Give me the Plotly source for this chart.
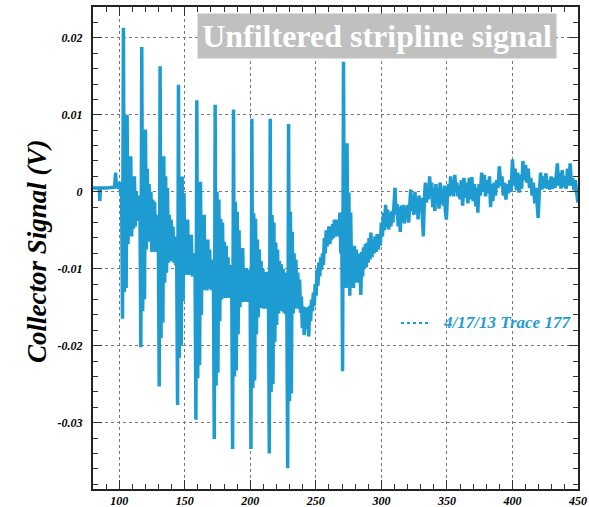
import plotly.graph_objects as go

# ---------------- data ----------------
pre_x = [80.0, 84.0, 84.8, 85.2, 85.7, 90.0, 95.0, 96.5, 97.2, 97.8, 99.5, 100.5, 101.2, 101.8]
pre_y = [0.0005, 0.0005, 0.0005, -0.0012, 0.0005, 0.0005, 0.0005, 0.0006, 0.0025, 0.0008,
         0.0005, 0.0013, -0.0005, 0.0013]

burst_x = [
    102.5, 103.2, 103.9, 104.6, 105.3, 106.0, 106.7, 107.4, 108.1, 108.8, 109.5, 110.2, 110.9, 111.6, 112.3, 113.0, 113.7, 114.4, 115.1, 115.8,
    116.5, 117.2, 117.9, 118.6, 119.3, 120.0, 120.7, 121.4, 122.1, 122.8, 123.5, 124.2, 124.9, 125.6, 126.3, 127.0, 127.7, 128.4, 129.1, 129.8,
    130.5, 131.2, 131.9, 132.6, 133.3, 134.0, 134.7, 135.4, 136.1, 136.8, 137.5, 138.2, 138.9, 139.6, 140.3, 141.0, 141.7, 142.4, 143.1, 143.8,
    144.5, 145.2, 145.9, 146.6, 147.3, 148.0, 148.7, 149.4, 150.1, 150.8, 151.5, 152.2, 152.9, 153.6, 154.3, 155.0, 155.7, 156.4, 157.1, 157.8,
    158.5, 159.2, 159.9, 160.6, 161.3, 162.0, 162.7, 163.4, 164.1, 164.8, 165.5, 166.2, 166.9, 167.6, 168.3, 169.0, 169.7, 170.4, 171.1, 171.8,
    172.5, 173.2, 173.9, 174.6, 175.3, 176.0, 176.7, 177.4, 178.1, 178.8, 179.5, 180.2, 180.9, 181.6, 182.3, 183.0, 183.7, 184.4, 185.1, 185.8,
    186.5, 187.2, 187.9, 188.6, 189.3, 190.0, 190.7, 191.4, 192.1, 192.8, 193.5, 194.2, 194.9, 195.6, 196.3, 197.0, 197.7, 198.4, 199.1, 199.8,
    200.5, 201.2, 201.9, 202.6, 203.3, 204.0, 204.7, 205.4, 206.1, 206.8, 207.5, 208.2, 208.9, 209.6, 210.3, 211.0, 211.7, 212.4, 213.1, 213.8,
    214.5, 215.2, 215.9, 216.6, 217.3, 218.0, 218.7, 219.4, 220.1, 220.8, 221.5, 222.2, 222.9, 223.6, 224.3, 225.0, 225.7, 226.4, 227.1, 227.8,
    228.5, 229.2, 229.9, 230.6, 231.3, 232.0, 232.7, 233.4, 234.1, 234.8, 235.5, 236.2, 236.9, 237.6, 238.3, 239.0, 239.7, 240.4, 241.1, 241.8,
]
burst_y = [
    -0.0165, 0.0213, -0.0130, 0.0100, -0.0125, 0.0100, -0.0068, 0.0046, -0.0055, 0.0046, -0.0058, 0.0020, -0.0048, 0.0020, -0.0045, 0.0000, -0.0035, -0.0005, -0.0038, -0.0013,
    -0.0202, 0.0188, -0.0155, 0.0081, -0.0140, 0.0081, -0.0075, 0.0030, -0.0065, 0.0010, -0.0058, 0.0000, -0.0078, -0.0010, -0.0068, -0.0013, -0.0078, -0.0030, -0.0075, -0.0042,
    -0.0253, 0.0163, -0.0190, 0.0046, -0.0170, 0.0046, -0.0118, 0.0020, -0.0105, 0.0005, -0.0092, -0.0030, -0.0090, -0.0036, -0.0088, -0.0045, -0.0092, -0.0058, -0.0095, -0.0067,
    -0.0277, 0.0139, -0.0216, 0.0020, -0.0200, 0.0020, -0.0142, -0.0002, -0.0108, -0.0036, -0.0106, -0.0036, -0.0108, -0.0056, -0.0105, -0.0056, -0.0110, -0.0080, -0.0108, -0.0080,
    -0.0296, 0.0119, -0.0242, 0.0013, -0.0225, 0.0013, -0.0160, -0.0030, -0.0128, -0.0030, -0.0126, -0.0062, -0.0128, -0.0062, -0.0124, -0.0075, -0.0127, -0.0088, -0.0128, -0.0088,
    -0.0321, 0.0113, -0.0252, 0.0000, -0.0235, -0.0010, -0.0168, -0.0035, -0.0140, -0.0040, -0.0135, -0.0065, -0.0138, -0.0070, -0.0134, -0.0085, -0.0138, -0.0095, -0.0138, -0.0095,
    -0.0334, 0.0107, -0.0240, -0.0013, -0.0232, -0.0026, -0.0185, -0.0050, -0.0150, -0.0073, -0.0143, -0.0073, -0.0143, -0.0099, -0.0141, -0.0099, -0.0143, -0.0101, -0.0143, -0.0101,
    -0.0334, 0.0095, -0.0255, -0.0028, -0.0245, -0.0035, -0.0185, -0.0062, -0.0163, -0.0075, -0.0151, -0.0090, -0.0151, -0.0100, -0.0152, -0.0104, -0.0152, -0.0104, -0.0152, -0.0104,
    -0.0340, 0.0095, -0.0260, -0.0030, -0.0250, -0.0040, -0.0195, -0.0066, -0.0173, -0.0075, -0.0158, -0.0090, -0.0153, -0.0094, -0.0155, -0.0100, -0.0157, -0.0105, -0.0159, -0.0110,
    -0.0359, 0.0088, -0.0272, -0.0026, -0.0262, -0.0052, -0.0158, -0.0080, -0.0152, -0.0088, -0.0147, -0.0105, -0.0152, -0.0114, -0.0157, -0.0136, -0.0177, -0.0149, -0.0186, -0.0160,
]

tail_x = [
    242.5, 243.2, 243.9, 244.6, 245.3, 246.0, 246.7, 247.4, 248.1, 248.8, 249.5, 250.2, 250.9, 251.6, 252.3, 253.0, 253.7, 254.4, 255.1, 255.8,
    256.5, 257.2, 257.9, 258.6, 259.3, 260.0, 260.7, 261.4, 262.1, 262.8, 263.5, 264.2, 264.9, 265.6, 266.3, 267.0, 267.7, 268.4, 269.1, 269.8,
    270.4, 271.1, 271.7, 272.4, 273.1, 273.8, 274.5, 275.2, 275.9, 276.6, 277.3, 278.0, 278.7, 279.4, 280.1, 280.8, 281.5, 282.2, 282.9, 283.6,
    284.3, 285.0, 285.7, 286.4, 287.1, 287.8, 288.5, 289.2, 289.9, 290.6, 291.3, 292.0, 292.8, 293.6, 294.4, 295.2, 296.0, 296.8, 297.6, 298.4,
    299.2, 300.0, 300.8, 301.6, 302.4, 303.2, 304.0, 304.8, 305.6, 306.4, 307.2, 308.0, 308.8, 309.6, 310.4, 311.2, 312.0, 312.8, 313.6, 314.4,
    315.2, 316.0, 316.8, 317.6, 318.4, 319.2, 320.0, 320.8, 321.6, 322.4, 323.2, 324.0, 324.8, 325.6, 326.4, 327.2, 328.0, 328.8, 329.6, 330.4,
    331.2, 332.0, 332.8, 333.6, 334.4, 335.2, 336.0, 336.8, 337.6, 338.4, 339.2, 340.0, 340.8, 341.6, 342.4, 343.2, 344.0, 344.8, 345.6, 346.4,
    347.2, 348.0, 348.8, 349.6, 350.4, 351.2, 352.0, 352.8, 353.6, 354.4, 355.2, 356.0, 356.8, 357.6, 358.4, 359.2, 360.0, 361.0, 362.0, 363.0,
    364.0, 365.0, 366.0, 367.0, 368.0, 369.0, 370.0, 371.0, 372.0, 373.0, 373.6, 374.5, 375.5, 376.5, 377.5, 378.5, 379.5, 380.5, 381.5, 382.5,
    383.3, 384.2, 385.0, 386.0, 387.0, 388.0, 389.0, 390.0, 391.0, 392.0, 393.0, 394.0, 395.0, 396.0, 397.0, 398.0, 399.0, 400.0, 401.0, 402.0,
    403.0, 404.0, 405.0, 406.0, 407.0, 408.0, 409.0, 410.0, 411.0, 412.0, 413.0, 414.0, 415.0, 416.0, 417.0, 418.0, 419.0, 419.6, 420.5, 421.5,
    422.5, 423.5, 424.5, 425.5, 426.5, 427.5, 428.5, 429.5, 430.5, 431.5, 432.5, 433.5, 434.3, 435.2, 436.0, 437.0, 438.0, 439.0, 440.0, 441.0,
    442.0, 443.0, 444.0, 445.0, 446.0, 447.0, 448.0, 449.0, 450.0,
]
tail_y = [
    -0.0150, -0.0178, -0.0158, -0.0188, -0.0148, -0.0168, -0.0140, -0.0155, -0.0131, -0.0148, -0.0120, -0.0135, -0.0101, -0.0122, -0.0092, -0.0110, -0.0085, -0.0101, -0.0080, -0.0095,
    -0.0060, -0.0080, -0.0050, -0.0071, -0.0058, -0.0045, -0.0068, -0.0048, -0.0062, -0.0042, -0.0060, -0.0036, -0.0053, -0.0040, -0.0058, -0.0036, -0.0050, -0.0027, -0.0080, -0.0045,
    -0.0233, 0.0169, -0.0100, 0.0063, -0.0125, 0.0063, -0.0110, -0.0001, -0.0135, -0.0027, -0.0115, -0.0080, -0.0125, -0.0070, -0.0110, -0.0075, -0.0118, -0.0080, -0.0105, -0.0085,
    -0.0134, -0.0078, -0.0110, -0.0072, -0.0100, -0.0068, -0.0098, -0.0066, -0.0092, -0.0060, -0.0088, -0.0053, -0.0085, -0.0062, -0.0080, -0.0058, -0.0078, -0.0055, -0.0075, -0.0056,
    -0.0070, -0.0040, -0.0058, -0.0027, -0.0050, -0.0017, -0.0046, -0.0023, -0.0049, -0.0028, -0.0045, -0.0025, -0.0040, -0.0020, 0.0005, -0.0030, -0.0016, -0.0045, -0.0020, -0.0052,
    -0.0018, -0.0038, -0.0017, -0.0041, -0.0020, -0.0035, -0.0017, -0.0040, -0.0010, 0.0003, -0.0025, -0.0005, -0.0030, 0.0000, -0.0028, -0.0008, -0.0036, -0.0005, -0.0025, -0.0008,
    -0.0030, -0.0058, -0.0010, 0.0012, -0.0014, 0.0008, -0.0010, 0.0020, -0.0005, 0.0012, -0.0020, 0.0005, -0.0025, 0.0010, -0.0012, 0.0005, -0.0022, 0.0012, -0.0015, 0.0000,
    -0.0018, 0.0008, -0.0025, -0.0036, -0.0005, 0.0010, -0.0006, 0.0020, -0.0004, 0.0015, -0.0006, 0.0022, 0.0002, 0.0012, -0.0006, 0.0008, -0.0010, 0.0015, -0.0018, 0.0018,
    -0.0008, 0.0012, -0.0015, 0.0018, -0.0010, 0.0019, -0.0012, 0.0010, -0.0019, 0.0005, -0.0027, 0.0010, -0.0005, 0.0025, 0.0000, 0.0022, -0.0006, 0.0015, -0.0002, 0.0020,
    -0.0020, 0.0010, -0.0012, 0.0012, -0.0005, 0.0015, 0.0005, 0.0033, 0.0008, 0.0020, -0.0005, 0.0012, -0.0010, 0.0010, -0.0002, 0.0015, 0.0000, 0.0042, 0.0008, 0.0030,
    0.0002, 0.0025, -0.0001, 0.0022, 0.0004, 0.0040, 0.0015, 0.0035, 0.0012, 0.0030, 0.0005, 0.0018, -0.0005, 0.0012, -0.0015, 0.0005, -0.0020, -0.0034, 0.0000, 0.0025,
    0.0003, 0.0020, 0.0005, 0.0024, 0.0004, 0.0015, 0.0003, 0.0020, 0.0004, 0.0018, 0.0005, 0.0022, 0.0037, 0.0008, 0.0025, 0.0004, 0.0028, 0.0006, 0.0020, 0.0004,
    0.0030, 0.0008, 0.0037, 0.0008, 0.0018, 0.0002, 0.0015, -0.0002, -0.0014,
]

x_ticks = [100, 150, 200, 250, 300, 350, 400, 450]
y_tickvals = [-0.03, -0.02, -0.01, 0, 0.01, 0.02]
y_ticktext = ["-0.03", "-0.02", "-0.01", "0", "0.01", "0.02"]

title_text = "Unfiltered stripline signal"
legend_text = "4/17/13 Trace 177"
y_title = "Collector Signal (V)"

# ---------------- figure ----------------
BLUE = "#1e9bd0"
FONT = "Liberation Serif"

xs = pre_x + burst_x + tail_x
ys = pre_y + burst_y + tail_y

fig = go.Figure()
fig.add_trace(go.Scatter(x=xs, y=ys, mode="lines",
                         line=dict(color=BLUE, width=3.5),
                         showlegend=False, hoverinfo="skip"))

tickfont = dict(family=FONT, size=12, color="black", weight="bold", style="italic")

fig.update_layout(
    width=589, height=507,
    margin=dict(l=93, r=11, t=7, b=18, autoexpand=False),
    paper_bgcolor="white", plot_bgcolor="white",
    xaxis=dict(range=[80, 450], tickmode="array", tickvals=x_ticks,
               ticktext=[str(v) for v in x_ticks],
               ticks="inside", ticklen=9, tickwidth=1, tickcolor="#333",
               showline=True, linewidth=2, linecolor="#222", mirror="allticks",
               showgrid=True, gridcolor="#777", griddash="dot", gridwidth=1,
               zeroline=False, tickfont=tickfont, automargin=False,
               minor=dict(ticks="inside", ticklen=5, dtick=10, tick0=0,
                          tickcolor="#333", tickwidth=1, showgrid=False)),
    yaxis=dict(range=[-0.0386, 0.024], tickmode="array", tickvals=y_tickvals,
               ticktext=y_ticktext,
               ticks="inside", ticklen=9, tickwidth=1, tickcolor="#333",
               showline=True, linewidth=2, linecolor="#222", mirror="allticks",
               showgrid=True, gridcolor="#777", griddash="dot", gridwidth=1,
               zeroline=False, tickfont=tickfont, automargin=False,
               ticklabelstandoff=6,
               minor=dict(ticks="inside", ticklen=5, dtick=0.002, tick0=0,
                          tickcolor="#333", tickwidth=1, showgrid=False)),
)

# title box
fig.add_annotation(xref="paper", yref="paper", x=0.5856, y=0.9398,
                   xanchor="center", yanchor="middle", showarrow=False,
                   text="<b>" + title_text + "</b>",
                   font=dict(family=FONT, size=32, color="white"),
                   bgcolor="#c0c0c0", width=354, height=40, borderpad=2)

# y axis title
fig.add_annotation(xref="paper", yref="paper", x=-0.1155, y=0.4938,
                   xanchor="center", yanchor="middle", showarrow=False,
                   textangle=-90, text="<b><i>" + y_title + "</i></b>",
                   font=dict(family=FONT, size=27, color="black"))

# legend
fig.add_shape(type="line", xref="paper", yref="paper",
              x0=0.635, x1=0.697, y0=0.3444, y1=0.3444,
              line=dict(color=BLUE, width=2, dash="dot"))
fig.add_annotation(xref="paper", yref="paper", x=0.7175, y=0.3444,
                   xanchor="left", yanchor="middle", showarrow=False,
                   text="<b><i>" + legend_text + "</i></b>",
                   font=dict(family=FONT, size=17, color=BLUE))

fig.write_html("out.html")
